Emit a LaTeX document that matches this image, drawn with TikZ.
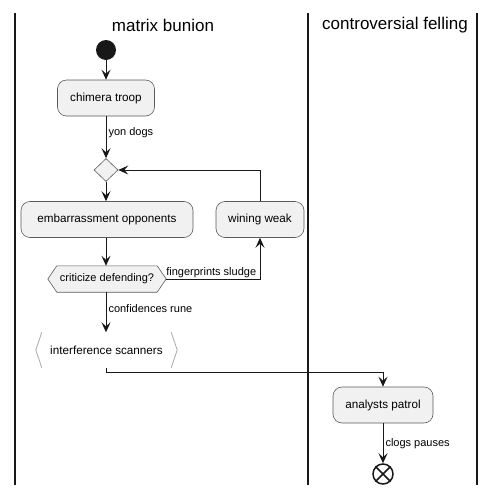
\documentclass[tikz,border=0pt]{standalone}
\usepackage{fontspec}
\setmainfont{Liberation Sans}
\usetikzlibrary{arrows.meta,positioning,calc,backgrounds,shapes.geometric}
\definecolor{boxfill}{HTML}{F1F1F1}
\definecolor{boxline}{HTML}{5A5A5A}
\definecolor{linecol}{HTML}{181818}
\definecolor{bracket}{HTML}{A8A8A8}

\begin{document}
\begin{tikzpicture}[
    x=1pt, y=-1pt,
    lane/.style={line width=1.3pt, draw=linecol},
    title/.style={font=\fontsize{17}{20}\selectfont},
    action/.style={rectangle, draw=boxline, line width=0.6pt, fill=boxfill, rounded corners=9pt, minimum height=36pt, inner sep=0pt, font=\fontsize{11.7}{14}\selectfont},
    merge/.style={diamond, draw=boxline, line width=0.6pt, fill=boxfill, inner sep=0pt, minimum width=24pt, minimum height=23pt},
    cond/.style={rectangle, inner sep=0pt, minimum width=118pt, minimum height=26pt, font=\fontsize{11}{13}\selectfont},
    label/.style={font=\fontsize{11}{13}\selectfont, inner sep=2pt},
    arrow/.style={-{Stealth[length=10pt,width=9pt,inset=4pt]}, line width=1pt, draw=linecol},
    flow/.style={line width=1pt, draw=linecol}
]
\useasboundingbox (0,0) rectangle (495,496);

% Swimlanes
\draw[lane] (15,13) -- (15,485);
\draw[lane] (308,13) -- (308,485);
\draw[lane] (477,13) -- (477,485);
\node[title] (lane1) at (163,25) {matrix bunion};
\node[title] (lane2) at (395,25) {controversial felling};

% Activities
\node[circle, fill=linecol, minimum size=20pt, inner sep=0pt] (start) at (106,50) {};
\node[action, minimum width=97pt] (troop) at (106,98) {chimera troop};
\node[merge] (join) at (106,170) {};
\node[action, minimum width=172pt] (embar) at (107,219.5) {embarrassment opponents};
\node[action, minimum width=88pt] (wining) at (260,219.5) {wining weak};
\node[cond] (crit) at (107,279) {criticize defending?};
\node[cond, minimum width=141pt, minimum height=35pt, font=\fontsize{11.7}{14}\selectfont] (scan) at (106.5,350) {interference scanners};
\node[action, minimum width=100pt] (patrol) at (383,405) {analysts patrol};
\node[circle, draw=linecol, line width=1.5pt, minimum size=20pt, inner sep=0pt] (finish) at (383,474) {};
\draw[linecol, line width=1.5pt] (finish.north west) -- (finish.south east);
\draw[linecol, line width=1.5pt] (finish.north east) -- (finish.south west);

\begin{scope}[on background layer]
\draw[draw=boxline, line width=0.6pt, fill=boxfill] (crit.west) -- ($(crit.north west)+(9,0)$) -- ($(crit.north east)+(-9,0)$) -- (crit.east) -- ($(crit.south east)+(-9,0)$) -- ($(crit.south west)+(9,0)$) -- cycle;
\draw[bracket, line width=0.8pt] ($(scan.north west)+(6,0)$) -- (scan.west) -- ($(scan.south west)+(6,0)$);
\draw[bracket, line width=0.8pt] ($(scan.north east)+(-6,0)$) -- (scan.east) -- ($(scan.south east)+(-6,0)$);
\end{scope}

% Connections
\draw[arrow] (start) -- (troop);
\draw[arrow] (troop) -- node[label, anchor=west, pos=0.4] {yon dogs} (join);
\draw[arrow] (join.south) -- (join.south |- embar.north);
\draw[arrow] (embar.south -| join.south) -- (crit.north -| join.south);
\draw[arrow] (crit.east) -| node[label, above, pos=0.24, inner sep=1pt] {fingerprints sludge} (wining.south);
\draw[arrow] (wining.north) |- (join.east);
\draw[arrow] (crit.south -| join.south) -- node[label, anchor=west, pos=0.42] {confidences rune} (scan.north -| join.south);
\coordinate (bend) at (106,372);
\draw[flow] (scan.south -| join.south) -- (bend);
\draw[arrow] (bend) -| (patrol.north);
\draw[arrow] (patrol) -- node[label, anchor=west] {clogs pauses} (finish);

\end{tikzpicture}
\end{document}
